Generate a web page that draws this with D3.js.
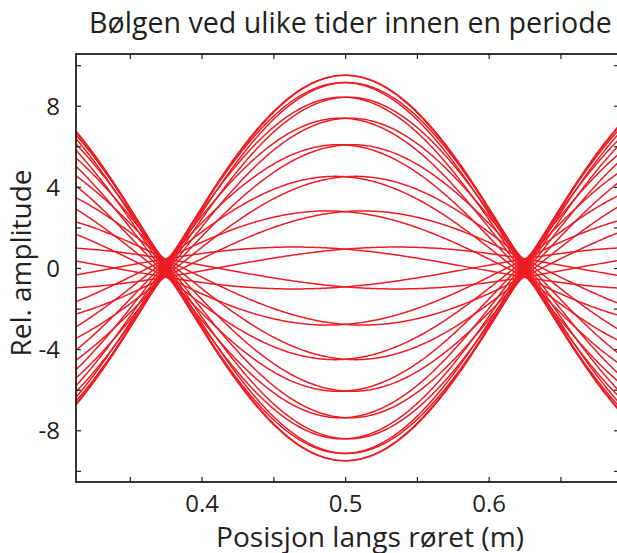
<!DOCTYPE html>
<html>
<head>
<meta charset="utf-8">
<script src="https://cdn.jsdelivr.net/npm/d3@7"></script>
<style>
  html, body { margin: 0; padding: 0; background: #fff; }
  svg { display: block; }
  text { font-family: "Open Sans", "Noto Sans", sans-serif; fill: #231f20; }
</style>
</head>
<body>
<svg id="chart" width="617" height="553"></svg>
<script>
// ---- data ----
const title = "Bølgen ved ulike tider innen en periode";
const xLabel = "Posisjon langs røret (m)";
const yLabel = "Rel. amplitude";
const xDomain = [0.3125, 0.6908];
const yDomain = [-10.55, 10.55];
const xTickValues = [0.35, 0.40, 0.45, 0.50, 0.55, 0.60, 0.65];
const xTickLabels = [0.4, 0.5, 0.6];
const yTickValues = [-10, -8, -6, -4, -2, 0, 2, 4, 6, 8, 10];
const yTickLabels = [-8, -4, 0, 4, 8];
const wavelength = 0.5;     // m (nodes at 0.375 and 0.625)
const antinodeX = 0.5;      // m
// amplitude of each snapshot at the antinode (x = 0.5)
const centerAmp = [9.50, 9.14, 8.42, 7.38, 6.07, 4.50, 2.78, 0.93,
                   -0.93, -2.78, -4.50, -6.07, -7.38, -8.42, -9.14, -9.50,
                   -9.50, -9.14, -8.42, -7.38, -6.07, -4.50, -2.78, -0.93,
                   0.93, 2.78, 4.50, 6.07, 7.38, 8.42, 9.14, 9.50];
// value of each snapshot at the right node (x = 0.625); opposite at the left node
const nodeAmp = [0.04, 0.13, 0.21, 0.29, 0.35, 0.40, 0.43, 0.45,
                 0.45, 0.43, 0.40, 0.35, 0.29, 0.21, 0.13, 0.04,
                 -0.04, -0.13, -0.21, -0.29, -0.35, -0.40, -0.43, -0.45,
                 -0.45, -0.43, -0.40, -0.35, -0.29, -0.21, -0.13, -0.04];

// ---- layout ----
const svg = d3.select("#chart");
const L = 76, R = 619, T = 54, B = 482;
const x = d3.scaleLinear().domain(xDomain).range([L, R]);
const y = d3.scaleLinear().domain(yDomain).range([B, T]);
const red = "#ed1c24";

svg.append("clipPath").attr("id", "clip")
  .append("rect").attr("x", L).attr("y", T).attr("width", R - L).attr("height", B - T);

// curves
const xs = d3.range(0, 401).map(i => xDomain[0] + (xDomain[1] - xDomain[0]) * i / 400);
const line = d3.line().x(d => x(d[0])).y(d => y(d[1]));
const curves = centerAmp.map((c, i) => xs.map(xv => {
  const ph = 2 * Math.PI * (xv - antinodeX) / wavelength;
  return [xv, c * Math.cos(ph) + nodeAmp[i] * Math.sin(ph)];
}));
svg.append("g").attr("clip-path", "url(#clip)")
  .selectAll("path").data(curves).join("path")
  .attr("d", line).attr("fill", "none")
  .attr("stroke", red).attr("stroke-width", 1.5);

// axes
const fmtX = d => xTickLabels.some(v => Math.abs(v - d) < 1e-9) ? d3.format(".1f")(d) : "";
const fmtY = d => yTickLabels.includes(d) ? (d < 0 ? "-" + Math.abs(d) : String(d)) : "";
const tl = 5;
const gB = svg.append("g").attr("transform", `translate(0,${B})`)
  .call(d3.axisBottom(x).tickValues(xTickValues).tickSizeInner(-tl).tickSizeOuter(0).tickPadding(13).tickFormat(fmtX));
const gT = svg.append("g").attr("transform", `translate(0,${T})`)
  .call(d3.axisTop(x).tickValues(xTickValues).tickSizeInner(-tl).tickSizeOuter(0).tickFormat(""));
const gL = svg.append("g").attr("transform", `translate(${L},0)`)
  .call(d3.axisLeft(y).tickValues(yTickValues).tickSizeInner(-tl).tickSizeOuter(0).tickPadding(16).tickFormat(fmtY));
const gR = svg.append("g").attr("transform", `translate(${R},0)`)
  .call(d3.axisRight(y).tickValues(yTickValues).tickSizeInner(-tl).tickSizeOuter(0).tickFormat(""));
[gB, gT, gL, gR].forEach(g => {
  g.select(".domain").remove();
  g.selectAll(".tick line").attr("stroke", "#231f20").attr("stroke-width", 1.2);
  g.selectAll(".tick text").attr("font-size", 24).attr("fill", "#231f20")
    .attr("font-family", '"Open Sans", sans-serif');
  g.selectAll(".tick text").filter(function () { return this.textContent === ""; }).remove();
});
gL.selectAll(".tick text").attr("dy", "0.35em");
svg.append("rect").attr("x", L).attr("y", T).attr("width", R - L).attr("height", B - T)
  .attr("fill", "none").attr("stroke", "#231f20").attr("stroke-width", 1.8);

// texts
function fit(sel, target) {
  const w = sel.node().getComputedTextLength();
  const fs = parseFloat(sel.attr("font-size"));
  sel.attr("font-size", (fs * target / w).toFixed(2));
}
const tt = svg.append("text").attr("x", 89).attr("y", 33).attr("font-size", 26).text(title);
fit(tt, 523);
const xl = svg.append("text").attr("x", 370).attr("y", 547).attr("text-anchor", "middle")
  .attr("font-size", 26).text(xLabel);
fit(xl, 308);
const yl = svg.append("text").attr("transform", "translate(31,263) rotate(-90)")
  .attr("text-anchor", "middle").attr("font-size", 26).text(yLabel);
fit(yl, 187);
</script>
</body>
</html>
